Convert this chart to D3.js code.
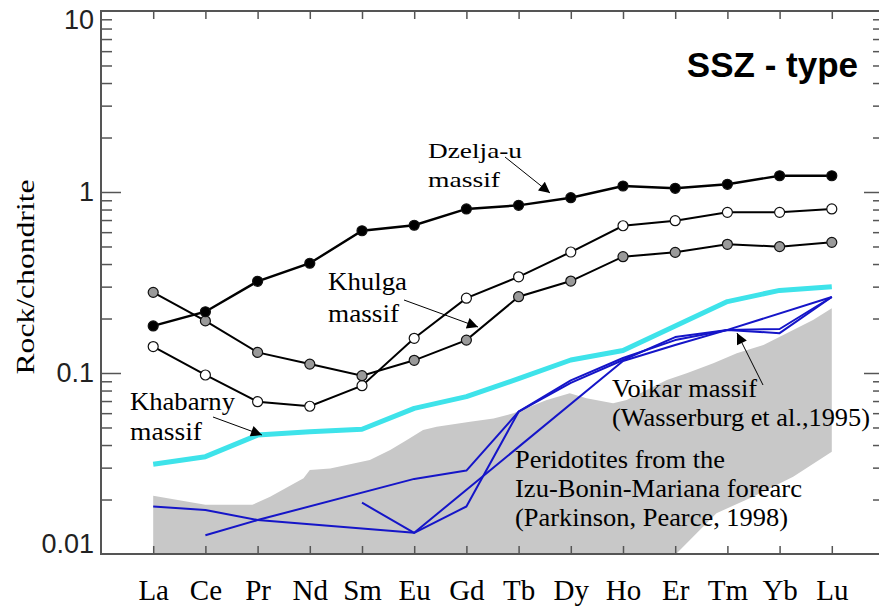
<!DOCTYPE html>
<html>
<head>
<meta charset="utf-8">
<script src="https://cdn.jsdelivr.net/npm/d3@7"></script>
<style>
  html, body { margin: 0; padding: 0; background: #fff; }
  svg { display: block; }
</style>
</head>
<body>
<svg id="chart" width="879" height="606"></svg>
<script>
// Chondrite-normalised REE patterns, SSZ-type peridotites
const elements = ["La","Ce","Pr","Nd","Sm","Eu","Gd","Tb","Dy","Ho","Er","Tm","Yb","Lu"];

// Dzelja-u massif (filled black circles)
const dzeljaU = [0.182,0.218,0.321,0.404,0.611,0.655,0.806,0.844,0.930,1.079,1.048,1.103,1.230,1.230];
// Khulga massif (open and grey circles)
const khulgaOpen = [0.140,0.0975,0.0694,0.0655,0.0851,0.1555,0.259,0.340,0.466,0.651,0.694,0.772,0.772,0.806];
const khulgaGrey = [0.279,0.194,0.130,0.112,0.0966,0.1175,0.152,0.264,0.322,0.439,0.464,0.514,0.499,0.527];
// Khabarny massif
const khabarny = [0.0313,0.0345,0.0454,0.0474,0.0489,0.0638,0.074,0.093,0.118,0.133,0.182,0.248,0.286,0.300];
// Voikar massif (Wasserburg et al., 1995); null = not determined
const voikarA = [0.0183,0.0175,0.0154,null,null,0.0131,0.0183,0.0611,0.0881,0.118,0.158,0.173,0.166,0.263];
const voikarB = [null,0.0127,0.0154,null,null,0.0260,0.0289,0.0611,0.0911,0.121,0.152,0.173,0.175,0.263];
const voikarC = [null,null,null,null,0.0192,0.0131,null,null,null,0.1165,0.1427,0.173,null,0.263];

// Izu-Bonin-Mariana forearc peridotite field: [element position, value]
const ibmUpper = [[0,0.0210],[1,0.0187],[1.9,0.0187],[2.24,0.0207],[2.88,0.0262],[3,0.0291],[3.39,0.0297],
  [4.15,0.0331],[4.54,0.0376],[4.86,0.0427],[5.17,0.0484],[5.43,0.0505],[6.07,0.0538],[6.52,0.0561],
  [6.9,0.0599],[7.54,0.0709],[7.98,0.0772],[8.3,0.0725],[8.81,0.068],[9.07,0.0709],[9.84,0.0915],
  [10.22,0.0996],[10.73,0.1132],[11.18,0.1285],[11.69,0.1428],[12.64,0.196],[13,0.228]];
const ibmLower = [[0,0.01],[10.03,0.0101],[10.79,0.0168],[11.49,0.0207],[12.26,0.0267],[13,0.0367]];

const yMajor = [0.01, 0.1, 1, 10];
const yMinor = [2,3,4,5,6,7,8,9].flatMap(m => [0.01, 0.1, 1].map(d => m * d));

const svg = d3.select("#chart");
const pLeft = 101, pRight = 884, pTop = 11, pBottom = 554;

const x = d3.scalePoint().domain(elements).range([pLeft, pRight]).padding(1);
const xi = d3.scaleLinear().domain([0, elements.length - 1])
  .range([x(elements[0]), x(elements[elements.length - 1])]);
const y = d3.scaleLog().domain([0.01, 10]).range([pBottom, pTop]);

const defs = svg.append("defs");
defs.append("clipPath").attr("id", "plotclip")
  .append("rect").attr("x", pLeft).attr("y", pTop).attr("width", pRight - pLeft).attr("height", pBottom - pTop);

const plot = svg.append("g");

// grey field
const field = ibmUpper.concat(ibmLower.slice().reverse());
plot.append("path")
  .attr("clip-path", "url(#plotclip)")
  .attr("d", d3.line().x(d => xi(d[0])).y(d => y(d[1]))(field) + "Z")
  .attr("fill", "#c8c8c8").attr("stroke", "none");

const seriesPts = vals => vals.map((v, i) => ({el: elements[i], v})).filter(d => d.v != null);
const line = d3.line().x(d => x(d.el)).y(d => y(d.v));

// Khabarny
plot.append("path").attr("d", line(seriesPts(khabarny)))
  .attr("fill", "none").attr("stroke", "#3ee3ea").attr("stroke-width", 5).attr("stroke-linejoin", "round");

// Voikar
[voikarA, voikarB, voikarC].forEach(s => {
  plot.append("path").attr("d", line(seriesPts(s)))
    .attr("fill", "none").attr("stroke", "#1515c8").attr("stroke-width", 2).attr("stroke-linejoin", "round");
});

// Khulga and Dzelja-u with markers
const marked = [
  {vals: khulgaOpen, fill: "#ffffff", w: 2},
  {vals: khulgaGrey, fill: "#9a9a9a", w: 2},
  {vals: dzeljaU, fill: "#000000", w: 2.4}
];
marked.forEach(s => {
  const pts = seriesPts(s.vals);
  plot.append("path").attr("d", line(pts))
    .attr("fill", "none").attr("stroke", "#000").attr("stroke-width", s.w);
  plot.selectAll(null).data(pts).enter().append("circle")
    .attr("cx", d => x(d.el)).attr("cy", d => y(d.v)).attr("r", 5)
    .attr("fill", s.fill).attr("stroke", "#111").attr("stroke-width", 1.2);
});

// axes
const axisColor = "#555";
function styleAxis(g) {
  g.select(".domain").remove();
  g.selectAll(".tick line").attr("stroke", axisColor).attr("stroke-width", 1.5);
}
svg.append("g").attr("transform", `translate(0,${pBottom})`)
  .call(d3.axisBottom(x).tickSize(-8).tickPadding(25).tickSizeOuter(0))
  .call(styleAxis)
  .call(g => g.selectAll("text").attr("font-family", "'Liberation Serif', 'Times New Roman', serif")
    .attr("font-size", 29).attr("fill", "#000"));
svg.append("g").attr("transform", `translate(0,${pTop})`)
  .call(d3.axisTop(x).tickSize(-8).tickFormat("").tickSizeOuter(0))
  .call(styleAxis);

svg.append("g").attr("transform", `translate(${pLeft},0)`)
  .call(d3.axisRight(y).tickValues(yMinor).tickSize(11).tickFormat(""))
  .call(styleAxis);
svg.append("g").attr("transform", `translate(${pLeft},0)`)
  .call(d3.axisRight(y).tickValues([0.1, 1]).tickSize(20).tickFormat(""))
  .call(styleAxis);
svg.append("g").attr("transform", `translate(${pRight},0)`)
  .call(d3.axisLeft(y).tickValues(yMinor).tickSize(11).tickFormat(""))
  .call(styleAxis);
svg.append("g").attr("transform", `translate(${pRight},0)`)
  .call(d3.axisLeft(y).tickValues([0.1, 1]).tickSize(20).tickFormat(""))
  .call(styleAxis);

svg.append("g").attr("transform", `translate(${pLeft},0)`)
  .call(d3.axisLeft(y).tickValues(yMajor).tickSize(0).tickPadding(7)
    .tickFormat(d => d >= 1 ? d3.format("d")(d) : String(d)))
  .call(g => g.select(".domain").remove())
  .call(g => g.selectAll("text")
    .attr("font-family", "'Liberation Sans', Arial, sans-serif")
    .attr("font-size", 27).attr("fill", "#222")
    .attr("y", d => d === 10 ? 9 : d === 0.01 ? -10 : 0));

// frame
svg.append("rect").attr("x", pLeft).attr("y", pTop).attr("width", pRight - pLeft).attr("height", pBottom - pTop)
  .attr("fill", "none").attr("stroke", axisColor).attr("stroke-width", 2);

// y title
svg.append("text")
  .attr("transform", "translate(34,277) rotate(-90)")
  .attr("text-anchor", "middle")
  .attr("font-family", "'Liberation Serif', 'Times New Roman', serif")
  .attr("font-size", 26).attr("textLength", 195).attr("lengthAdjust", "spacingAndGlyphs")
  .text("Rock/chondrite");

// title
svg.append("text").attr("x", 858).attr("y", 77).attr("text-anchor", "end")
  .attr("font-family", "'Liberation Sans', Arial, sans-serif").attr("font-weight", "bold")
  .attr("font-size", 35).text("SSZ - type");

// annotations
defs.append("marker").attr("id", "arrowhead")
  .attr("viewBox", "0 0 10 10").attr("refX", 10).attr("refY", 5)
  .attr("markerWidth", 14).attr("markerHeight", 11).attr("markerUnits", "userSpaceOnUse")
  .attr("orient", "auto")
  .append("path").attr("d", "M0,0L10,5L0,10Z").attr("fill", "#000");

const labels = [
  {lines: [["Dzelja-u", 94], ["massif", 72]], x: 428, y: 158, lh: 29, size: 22},
  {lines: [["Khulga", 79], ["massif", 71]], x: 328, y: 290, lh: 31.5, size: 25},
  {lines: [["Khabarny", 105], ["massif", 72]], x: 130, y: 410, lh: 30, size: 25},
  {lines: [["Voikar massif", 145], ["(Wasserburg et al.,1995)", 258]], x: 612, y: 397, lh: 28.5, size: 25},
  {lines: [["Peridotites from the", 210], ["Izu-Bonin-Mariana forearc", 287], ["(Parkinson, Pearce, 1998)", 273]],
    x: 515, y: 468, lh: 29, size: 25}
];
labels.forEach(l => {
  l.lines.forEach(([t, w], k) => {
    svg.append("text").attr("x", l.x).attr("y", l.y + k * l.lh)
      .attr("font-family", "'Liberation Serif', 'Times New Roman', serif")
      .attr("font-size", l.size).attr("textLength", w).attr("lengthAdjust", "spacingAndGlyphs")
      .attr("fill", "#000").text(t);
  });
});

const arrows = [
  [505, 157, 550, 193],
  [404, 300, 478, 327],
  [213, 417, 262, 435],
  [763, 385, 737, 333]
];
arrows.forEach(([x1, y1, x2, y2]) => {
  svg.append("line").attr("x1", x1).attr("y1", y1).attr("x2", x2).attr("y2", y2)
    .attr("stroke", "#000").attr("stroke-width", 1).attr("marker-end", "url(#arrowhead)");
});
</script>
</body>
</html>
